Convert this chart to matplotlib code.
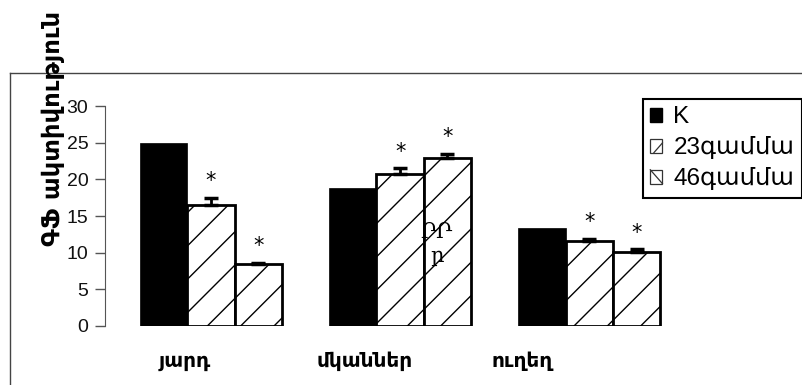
import matplotlib
matplotlib.use("Agg")
import matplotlib.pyplot as plt
import numpy as np
from matplotlib.patches import Patch, Rectangle
from matplotlib.lines import Line2D
from matplotlib.legend_handler import HandlerBase

plt.rcParams['font.family'] = ['Liberation Sans', 'DejaVu Sans']
plt.rcParams['hatch.linewidth'] = 1.0

categories = ['յարդ', 'մկաններ', 'ուղեղ']
series_names = ['K', '23գամմա', '46գամմա']
k_vals = [25.0, 18.8, 13.4]
g23_vals = [16.5, 20.7, 11.6]
g46_vals = [8.45, 22.9, 10.1]
g23_err = [1.0, 0.8, 0.3]
g46_err = [0.2, 0.6, 0.35]
yticks = [0, 5, 10, 15, 20, 25, 30]
ylabel = 'ԳՖ ակտիվություն'

W, H = 803, 385
fig = plt.figure(figsize=(W / 100, H / 100), dpi=100)
ax = fig.add_axes([105 / W, (H - 326) / H, (W - 105) / W, 220 / H])

x = np.arange(len(categories)) * 4.0
bw = 1.0
ax.bar(x - bw, k_vals, bw, color='black', edgecolor='black', linewidth=0.5)
ax.bar(x, g23_vals, bw, color='white', edgecolor='black', linewidth=2, hatch='/')
ax.bar(x + bw, g46_vals, bw, color='white', edgecolor='black', linewidth=2, hatch='/')

z = np.zeros(len(categories))
ax.errorbar(x, g23_vals, yerr=[z, g23_err], fmt='none', ecolor='black',
            elinewidth=2, capsize=5, capthick=2.5)
ax.errorbar(x + bw, g46_vals, yerr=[z, g46_err], fmt='none', ecolor='black',
            elinewidth=2, capsize=5, capthick=2.5)

for xs, vals, errs in [(x, g23_vals, g23_err), (x + bw, g46_vals, g46_err)]:
    for xi, v, e in zip(xs, vals, errs):
        ax.annotate('*', (xi, v + e), xytext=(0, 12), textcoords='offset points',
                    ha='center', va='center', fontsize=15, family='DejaVu Sans')

ax.set_xlim(-2.24, 12.52)
ax.set_ylim(0, 30)
ax.set_yticks(yticks)
ax.tick_params(axis='y', direction='out', length=7, width=1, color='#555555',
               labelsize=14, pad=5, labelcolor='#111111')
for s in ['top', 'right', 'bottom']:
    ax.spines[s].set_visible(False)
ax.spines['left'].set_color('#555555')
ax.spines['left'].set_bounds(0, 30)
ax.set_xticks([])
ax.patch.set_alpha(0)

label_x = [-0.56, 3.25, 6.57]
for lx, c in zip(label_x, categories):
    ax.text(lx, -4.8, c, ha='center', va='center', fontsize=14.5, fontweight='heavy',
            family='DejaVu Sans')

fig.text(53 / W, 1 - 128 / H, ylabel, rotation=90, ha='center', va='center',
         fontsize=17.5, fontweight='bold', family='DejaVu Sans')

# stray text artefact
fig.text(436 / W, 1 - 232 / H, 'ՐՐ', ha='center', va='center', fontsize=15,
         family='DejaVu Serif')
fig.text(437 / W, 1 - 257 / H, 'ր', ha='center', va='center', fontsize=15,
         family='DejaVu Serif')

# outer frame
fig.add_artist(Line2D([10 / W, 1], [1 - 73 / H, 1 - 73 / H], color='#444444', lw=1))
fig.add_artist(Line2D([10 / W, 10 / W], [0, 1 - 73 / H], color='#444444', lw=1))


class DiagHandler(HandlerBase):
    def __init__(self, direction):
        super().__init__()
        self.direction = direction

    def create_artists(self, legend, orig_handle, xdescent, ydescent, width,
                       height, fontsize, trans):
        x0, y0 = -xdescent, -ydescent
        r = Rectangle((x0, y0), width, height, facecolor='white',
                      edgecolor='#333333', linewidth=0.9, transform=trans)
        if self.direction == '/':
            ln = Line2D([x0 + width * 0.3, x0 + width], [y0, y0 + height * 0.7],
                        color='#333333', lw=0.9, transform=trans)
        else:
            ln = Line2D([x0, x0 + width], [y0 + height, y0], color='#333333',
                        lw=0.9, transform=trans)
        return [r, ln]


h_k = Patch(facecolor='black', edgecolor='black')
h_23 = Patch(facecolor='white', edgecolor='#333333')
h_46 = Patch(facecolor='white', edgecolor='#444444')
leg = fig.legend([h_k, h_23, h_46], series_names, loc='upper left',
                 bbox_to_anchor=(643 / W, 1 - 99 / H), fontsize=17.5,
                 frameon=True, fancybox=False, framealpha=1, edgecolor='black',
                 handlelength=0.5, handleheight=0.5, handletextpad=0.45,
                 labelspacing=0.33, borderpad=0.3, borderaxespad=0,
                 handler_map={h_23: DiagHandler('/'), h_46: DiagHandler('\\')})
leg.get_frame().set_linewidth(1.5)

fig.savefig('out.png', dpi=100)
